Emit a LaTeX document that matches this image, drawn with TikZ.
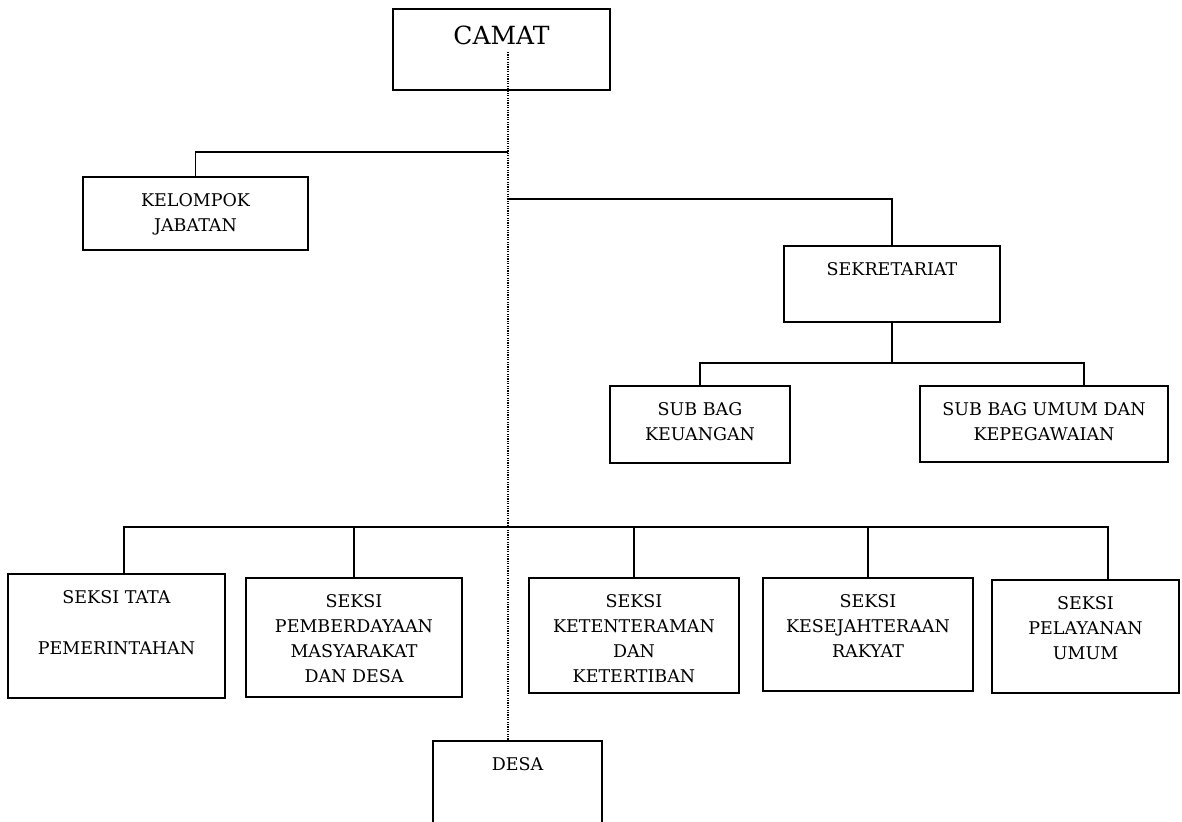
\documentclass[tikz,border=0pt]{standalone}
\usepackage{fontspec}
\setmainfont{DejaVu Serif}
\usetikzlibrary{positioning, calc}

\begin{document}
\begin{tikzpicture}[x=1pt, y=-1pt,
    unit/.style={draw, line width=1.7pt, inner sep=0pt, outer sep=0pt},
    boxtext/.style={anchor=north, yshift=-16.5pt, align=center, inner sep=0pt, font={\fontsize{17.5}{25}\selectfont}},
    link/.style={line width=1.6pt},
    spine/.style={line width=1.2pt, dash pattern=on 1.2pt off 1.2pt}]
    \useasboundingbox (0,0) rectangle (1182,821);

    % pimpinan
    \node[unit, minimum width=217pt, minimum height=81pt, label={[boxtext, font={\fontsize{25}{30}\selectfont}]north:CAMAT}] (camat) at (501.5,49.5) {};
    \node[unit, minimum width=225pt, minimum height=73pt, label={[boxtext]north:KELOMPOK\\JABATAN}] (kelompok) at (195.5,213.5) {};

    % sekretariat
    \node[unit, minimum width=216pt, minimum height=76pt, label={[boxtext]north:SEKRETARIAT}] (sek) at (892,284) {};
    \node[unit, minimum width=180pt, minimum height=77pt, label={[boxtext]north:SUB BAG\\KEUANGAN}] (keu) at (700,424.5) {};
    \node[unit, minimum width=248pt, minimum height=76pt, label={[boxtext]north:SUB BAG UMUM DAN\\KEPEGAWAIAN}] (umum) at (1044,424) {};

    % seksi
    \node[unit, minimum width=217pt, minimum height=124pt, label={[boxtext]north:SEKSI TATA\\[26pt]PEMERINTAHAN}] (tata) at (116.5,636) {};
    \node[unit, minimum width=216pt, minimum height=119pt, label={[boxtext]north:SEKSI\\PEMBERDAYAAN\\MASYARAKAT\\DAN DESA}] (pember) at (354,637.5) {};
    \node[unit, minimum width=210pt, minimum height=115pt, label={[boxtext]north:SEKSI\\KETENTERAMAN\\DAN\\KETERTIBAN}] (ketent) at (634,635.5) {};
    \node[unit, minimum width=210pt, minimum height=113pt, label={[boxtext]north:SEKSI\\KESEJAHTERAAN\\RAKYAT}] (kesej) at (868,634.5) {};
    \node[unit, minimum width=187pt, minimum height=113pt, label={[boxtext]north:SEKSI\\PELAYANAN\\UMUM}] (pelayanan) at (1085.5,636.5) {};

    % desa
    \node[unit, minimum width=169pt, minimum height=90pt, label={[boxtext]north:DESA}] (desa) at (517.5,786) {};

    % garis
    \coordinate (spine) at (508,52);
    \coordinate (kj) at (508,152);
    \coordinate (sk) at (508,199);
    \coordinate (sb) at (892,363);
    \coordinate (bus) at (508,527);
    \draw[spine] (spine) -- (spine |- desa.north);
    \draw[link] (kj) -| (kelompok.north);
    \draw[link] (sk) -| (sek.north);
    \draw[link] (sek.south) -- (sb);
    \draw[link] (keu.north) |- (sb) -| ([xshift=40pt]umum.north);
    \draw[link] ([xshift=7.5pt]tata.north) |- (bus) -| ([xshift=22.5pt]pelayanan.north);
    \foreach \n in {pember, ketent, kesej}
        \draw[link] (\n.north) -- (\n.north |- bus);
\end{tikzpicture}
\end{document}
